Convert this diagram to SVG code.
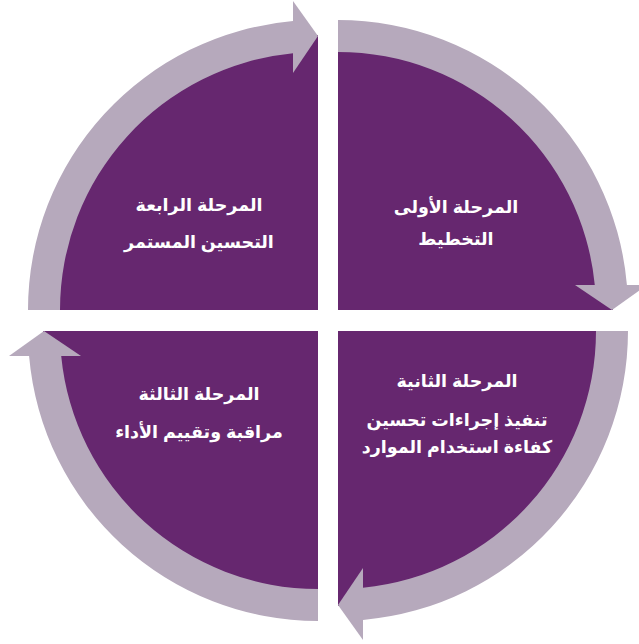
<svg xmlns="http://www.w3.org/2000/svg" width="639" height="644" viewBox="0 0 639 644">
<style>
.sec{fill:#66276F}
.band{fill:#B6A9BC}
.t{fill:#FFFFFF;font-family:"Liberation Sans","DejaVu Sans",sans-serif;font-weight:bold;font-size:17.5px;text-anchor:middle}
</style>
<rect width="639" height="644" fill="#FFFFFF"/>
<g id="node-1">
<path class="sec" d="M338,310 L338,35 A275,275 0 0 1 613,310 Z"/>
<text class="t" direction="rtl" x="456" y="213">المرحلة الأولى</text>
<text class="t" direction="rtl" x="456" y="245">التخطيط</text>
</g>
<g id="node-2">
<path class="sec" d="M338,331 L613,331 A275,275 0 0 1 338,606 Z"/>
<text class="t" direction="rtl" x="457" y="387">المرحلة الثانية</text>
<text class="t" direction="rtl" x="457" y="426">تنفيذ إجراءات تحسين</text>
<text class="t" direction="rtl" x="457" y="453">كفاءة استخدام الموارد</text>
</g>
<g id="node-3">
<path class="sec" d="M318,331 L318,606 A275,275 0 0 1 43,331 Z"/>
<text class="t" direction="rtl" x="199" y="400">المرحلة الثالثة</text>
<text class="t" direction="rtl" x="199" y="438">مراقبة وتقييم الأداء</text>
</g>
<g id="node-4">
<path class="sec" d="M318,310 L43,310 A275,275 0 0 1 318,35 Z"/>
<text class="t" direction="rtl" x="199" y="211">المرحلة الرابعة</text>
<text class="t" direction="rtl" x="199" y="248">التحسين المستمر</text>
</g>
<g id="connectors">
<path class="band" d="M338,20 A290,290 0 0 1 626.92,285 L594.79,285 A258,258 0 0 0 338,52 Z"/>
<polygon class="band" points="575,285 647,285 612,310"/>
<path class="band" d="M628,331 A290,290 0 0 1 363,619.92 L363,587.79 A258,258 0 0 0 596,331 Z"/>
<polygon class="band" points="363,568 363,640 338,605"/>
<path class="band" d="M318,621 A290,290 0 0 1 29.08,356 L61.21,356 A258,258 0 0 0 318,589 Z"/>
<polygon class="band" points="9,356 81,356 44,331"/>
<path class="band" d="M28,310 A290,290 0 0 1 293,21.08 L293,53.21 A258,258 0 0 0 60,310 Z"/>
<polygon class="band" points="293,1 293,73 318,36"/>
</g>
</svg>
